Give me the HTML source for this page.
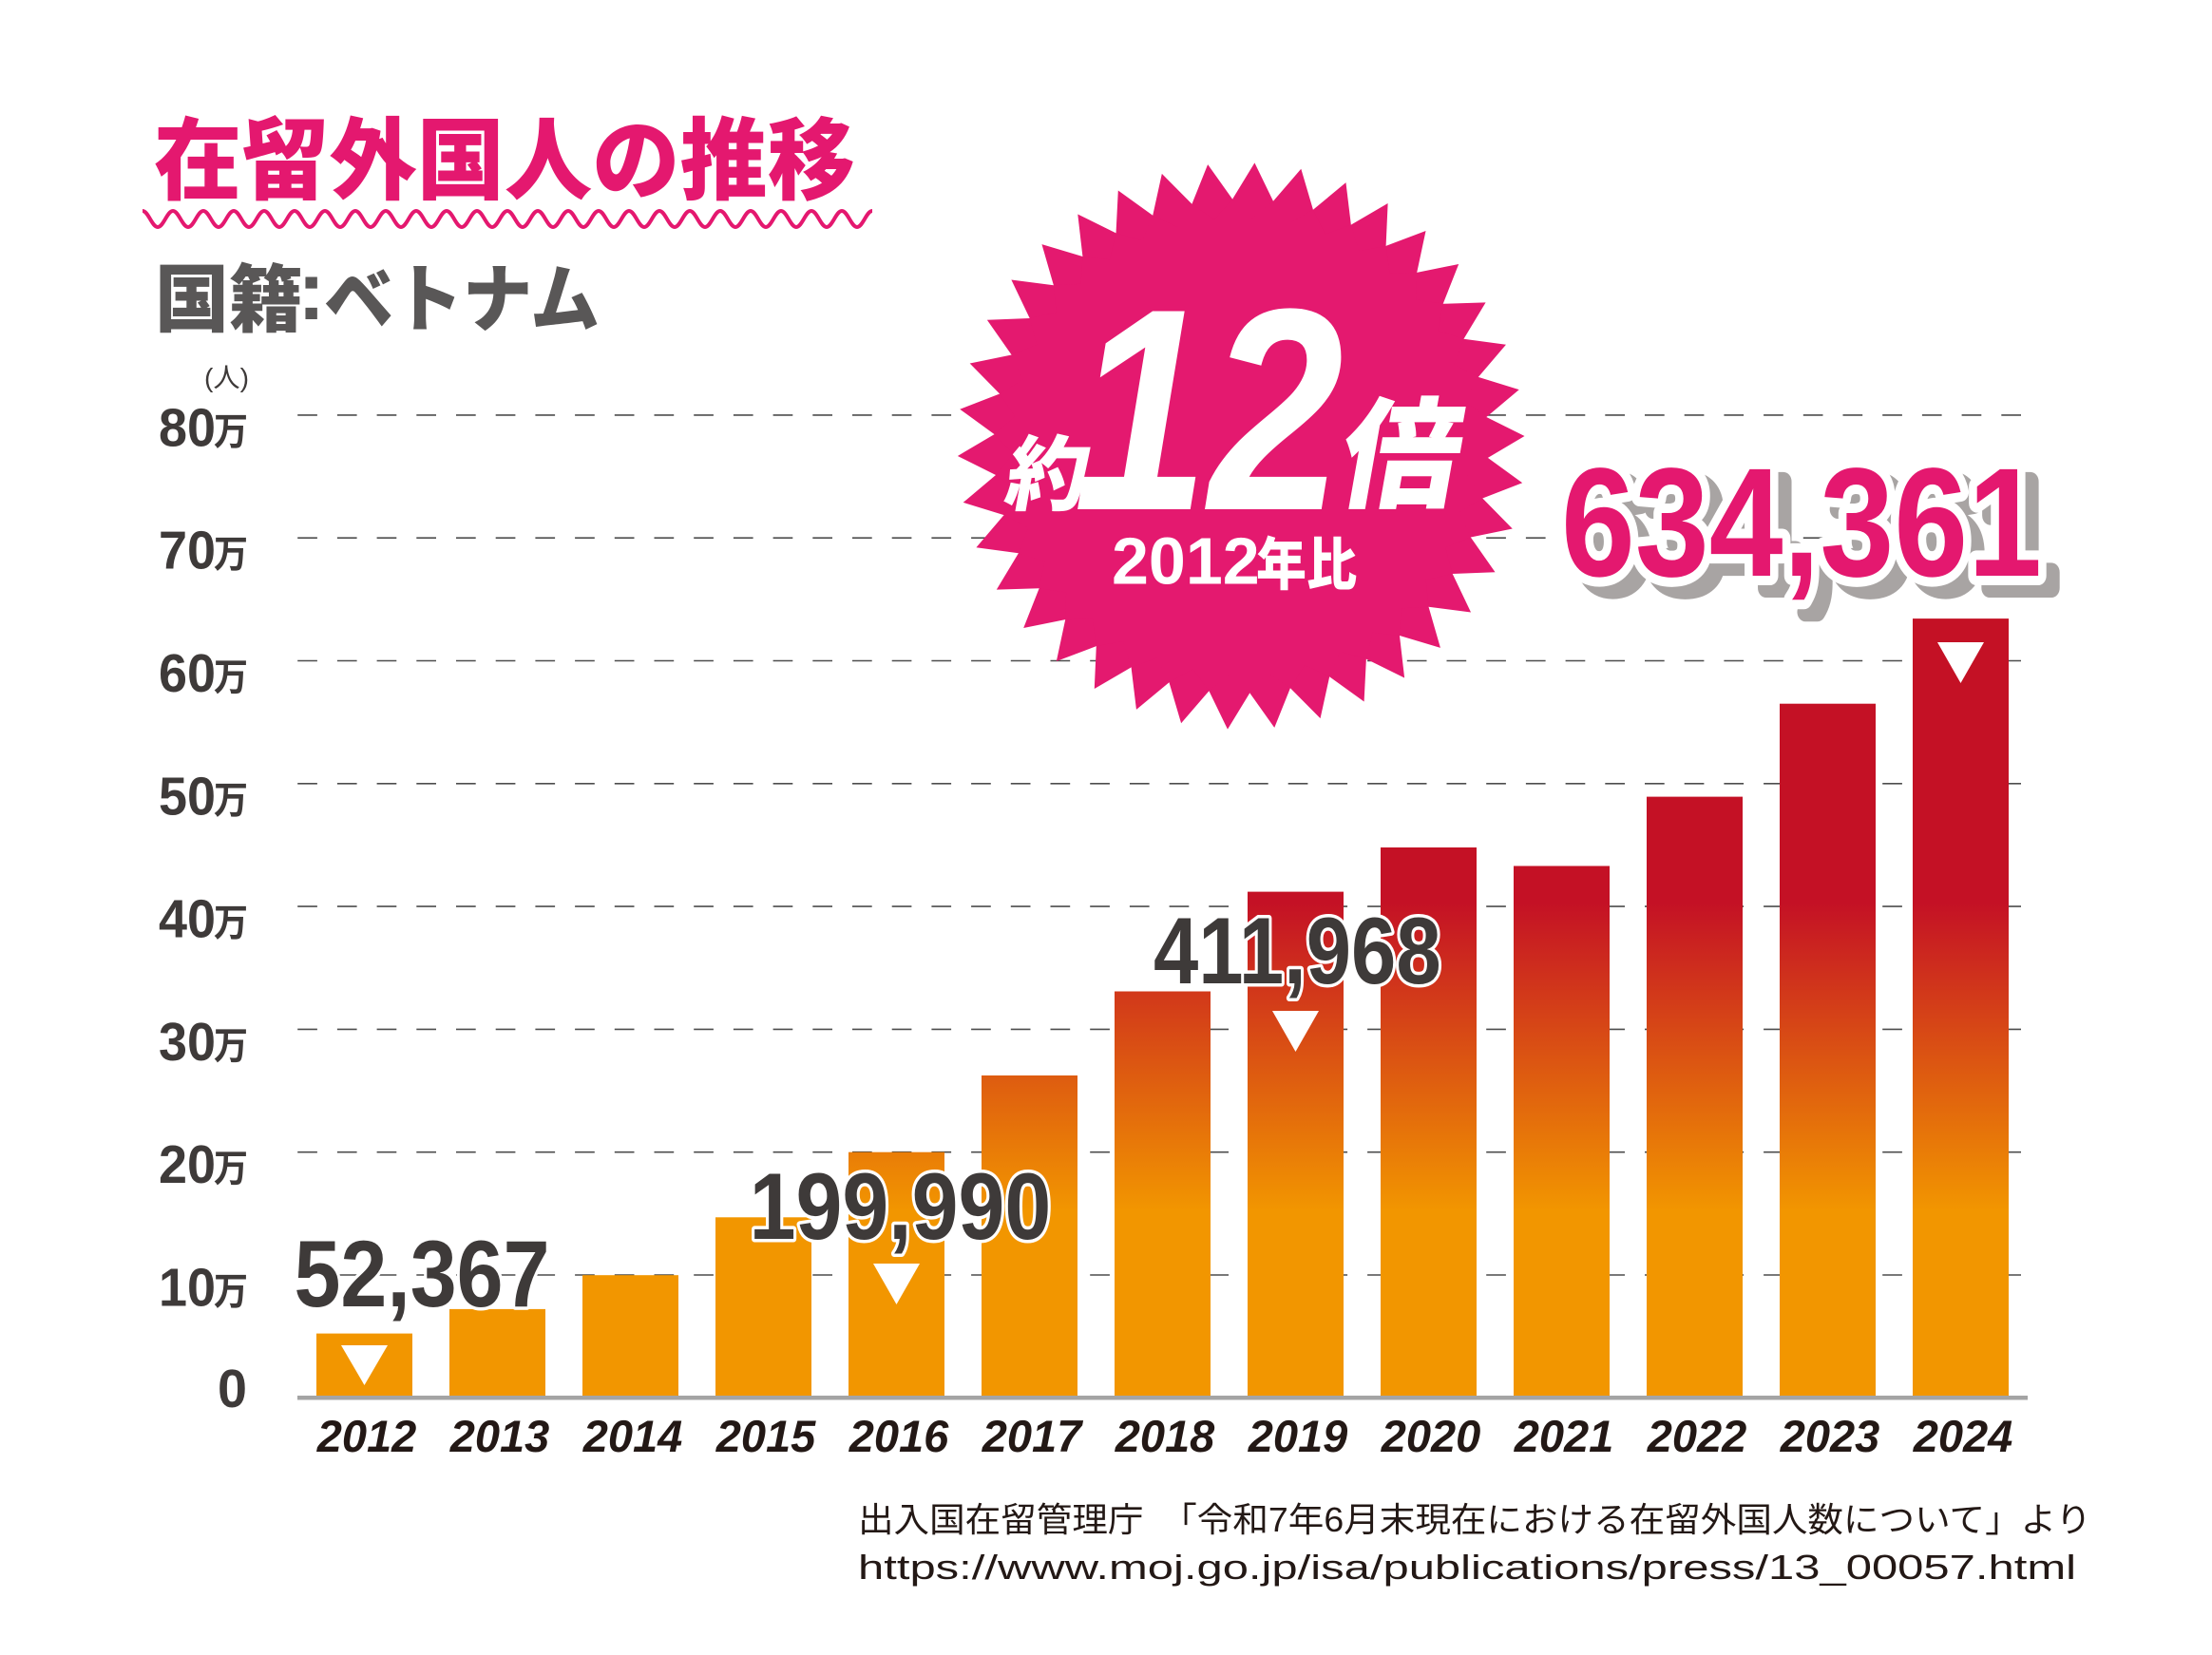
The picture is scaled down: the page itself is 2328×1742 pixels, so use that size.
<!DOCTYPE html>
<html><head><meta charset="utf-8">
<style>html,body{margin:0;padding:0;background:#fff}svg{display:block}</style>
</head><body>
<svg width="2328" height="1742" viewBox="0 0 2328 1742" xmlns="http://www.w3.org/2000/svg">
<defs>
<linearGradient id="bg" gradientUnits="userSpaceOnUse" x1="0" y1="950" x2="0" y2="1275">
<stop offset="0" stop-color="#C41125"/><stop offset="1" stop-color="#F29600"/>
</linearGradient>
</defs>
<rect width="2328" height="1742" fill="#fff"/>

<!-- Title -->
<text x="162" y="202" font-family="'Liberation Sans','Noto Sans CJK JP',sans-serif" font-weight="900" font-size="94" fill="#E4186F" textLength="738" lengthAdjust="spacingAndGlyphs">在留外国人の推移</text>
<path d="M150,222 C156,222 160,239 166,239 S176,222 182,222 S192,239 198,239 S208,222 214,222 S224,239 230,239 S240,222 246,222 S256,239 262,239 S272,222 278,222 S288,239 294,239 S304,222 310,222 S320,239 326,239 S336,222 342,222 S352,239 358,239 S368,222 374,222 S384,239 390,239 S400,222 406,222 S416,239 422,239 S432,222 438,222 S448,239 454,239 S464,222 470,222 S480,239 486,239 S496,222 502,222 S512,239 518,239 S528,222 534,222 S544,239 550,239 S560,222 566,222 S576,239 582,239 S592,222 598,222 S608,239 614,239 S624,222 630,222 S640,239 646,239 S656,222 662,222 S672,239 678,239 S688,222 694,222 S704,239 710,239 S720,222 726,222 S736,239 742,239 S752,222 758,222 S768,239 774,239 S784,222 790,222 S800,239 806,239 S816,222 822,222 S832,239 838,239 S848,222 854,222 S864,239 870,239 S880,222 886,222 S896,239 902,239 S912,222 918,222" fill="none" stroke="#E4186F" stroke-width="4"/>

<!-- Subtitle -->
<g fill="#595757" font-family="'Liberation Sans','Noto Sans CJK JP',sans-serif" font-weight="900">
<text x="163" y="342.5" font-size="78" textLength="156" lengthAdjust="spacingAndGlyphs">国籍</text>
<text x="313" y="336" font-size="88" font-weight="bold">:</text>
<text x="341" y="342.5" font-size="78" textLength="290" lengthAdjust="spacingAndGlyphs">ベトナム</text>
</g>
<text x="215" y="407" font-family="'Liberation Sans','Noto Sans CJK JP',sans-serif" font-size="28" fill="#3E3A39" textLength="47" lengthAdjust="spacingAndGlyphs">(人)</text>

<!-- Gridlines -->
<g stroke="#4d4d4d" stroke-width="1.6" stroke-dasharray="20.7 21">
<line x1="313.2" y1="1342" x2="2127" y2="1342"/>
<line x1="313.2" y1="1212.7" x2="2127" y2="1212.7"/>
<line x1="313.2" y1="1083.4" x2="2127" y2="1083.4"/>
<line x1="313.2" y1="954.1" x2="2127" y2="954.1"/>
<line x1="313.2" y1="824.8" x2="2127" y2="824.8"/>
<line x1="313.2" y1="695.5" x2="2127" y2="695.5"/>
<line x1="313.2" y1="566.2" x2="2127" y2="566.2"/>
<line x1="313.2" y1="436.9" x2="2127" y2="436.9"/>
</g>

<!-- Y labels -->
<g fill="#3E3A39" font-family="'Liberation Sans',sans-serif" font-weight="bold" font-size="57">
<text x="167" y="1374.5" textLength="60" lengthAdjust="spacingAndGlyphs">10</text>
<text x="167" y="1245.2" textLength="60" lengthAdjust="spacingAndGlyphs">20</text>
<text x="167" y="1115.9" textLength="60" lengthAdjust="spacingAndGlyphs">30</text>
<text x="167" y="986.6" textLength="60" lengthAdjust="spacingAndGlyphs">40</text>
<text x="167" y="857.3" textLength="60" lengthAdjust="spacingAndGlyphs">50</text>
<text x="167" y="728" textLength="60" lengthAdjust="spacingAndGlyphs">60</text>
<text x="167" y="598.7" textLength="60" lengthAdjust="spacingAndGlyphs">70</text>
<text x="167" y="469.4" textLength="60" lengthAdjust="spacingAndGlyphs">80</text>
<text x="229" y="1481" textLength="31" lengthAdjust="spacingAndGlyphs">0</text>
</g>
<g fill="#3E3A39" font-family="'Liberation Sans','Noto Sans CJK JP',sans-serif" font-weight="bold" font-size="40">
<text x="225" y="1373" textLength="36" lengthAdjust="spacingAndGlyphs">万</text>
<text x="225" y="1243.7" textLength="36" lengthAdjust="spacingAndGlyphs">万</text>
<text x="225" y="1114.4" textLength="36" lengthAdjust="spacingAndGlyphs">万</text>
<text x="225" y="985.1" textLength="36" lengthAdjust="spacingAndGlyphs">万</text>
<text x="225" y="855.8" textLength="36" lengthAdjust="spacingAndGlyphs">万</text>
<text x="225" y="726.5" textLength="36" lengthAdjust="spacingAndGlyphs">万</text>
<text x="225" y="597.2" textLength="36" lengthAdjust="spacingAndGlyphs">万</text>
<text x="225" y="467.9" textLength="36" lengthAdjust="spacingAndGlyphs">万</text>
</g>

<!-- Bars -->
<g fill="url(#bg)">
<rect x="333" y="1403.6" width="101" height="67.4"/>
<rect x="473" y="1377.9" width="101" height="93.1"/>
<rect x="613" y="1342.2" width="101" height="128.8"/>
<rect x="753" y="1281.3" width="101" height="189.7"/>
<rect x="893" y="1212.7" width="101" height="258.3"/>
<rect x="1033" y="1132" width="101" height="339"/>
<rect x="1173" y="1043.5" width="101" height="427.5"/>
<rect x="1313" y="938.6" width="101" height="532.4"/>
<rect x="1453" y="892" width="101" height="579"/>
<rect x="1593" y="911.5" width="101" height="559.5"/>
<rect x="1733" y="838.6" width="101" height="632.4"/>
<rect x="1873" y="740.7" width="101" height="730.3"/>
<rect x="2013" y="651.1" width="101" height="819.9"/>
</g>
<rect x="313" y="1469" width="1821" height="4.5" fill="#A4A4A4"/>

<!-- Triangles -->
<g fill="#fff">
<polygon points="359,1416 408,1416 383.5,1458"/>
<polygon points="919,1330 968,1330 943.5,1373"/>
<polygon points="1339,1064 1388,1064 1363.5,1107"/>
<polygon points="2039,676 2088,676 2063.5,719"/>
</g>

<!-- Year labels -->
<g fill="#231815" font-family="'Liberation Sans',sans-serif" font-weight="bold" font-style="italic" font-size="47" text-anchor="middle">
<text x="386" y="1528">2012</text>
<text x="526" y="1528">2013</text>
<text x="666" y="1528">2014</text>
<text x="806" y="1528">2015</text>
<text x="946" y="1528">2016</text>
<text x="1086" y="1528">2017</text>
<text x="1226" y="1528">2018</text>
<text x="1366" y="1528">2019</text>
<text x="1506" y="1528">2020</text>
<text x="1646" y="1528">2021</text>
<text x="1786" y="1528">2022</text>
<text x="1926" y="1528">2023</text>
<text x="2066" y="1528">2024</text>
</g>

<!-- Value labels -->
<g fill="#3E3A39" stroke="#fff" stroke-width="7" stroke-linejoin="round" paint-order="stroke" font-family="'Liberation Sans',sans-serif" font-weight="bold" font-size="99">
<text x="309.5" y="1375" textLength="269" lengthAdjust="spacingAndGlyphs">52,367</text>
<text x="788.6" y="1304" textLength="317.6" lengthAdjust="spacingAndGlyphs">199,990</text>
<text x="1214" y="1035" textLength="302.6" lengthAdjust="spacingAndGlyphs">411,968</text>
</g>

<!-- 634,361 -->
<g font-family="'Liberation Sans',sans-serif" font-weight="bold" font-size="163" stroke-linejoin="round">
<text x="1657" y="619" textLength="506" lengthAdjust="spacingAndGlyphs" fill="#A8A4A3" stroke="#A8A4A3" stroke-width="20">634,361</text>
<text x="1643" y="606" textLength="506" lengthAdjust="spacingAndGlyphs" fill="#E4186F" stroke="#fff" stroke-width="20" paint-order="stroke">634,361</text>
</g>

<!-- Starburst -->
<g transform="translate(1306.2,469.5)" fill="#E4196F">
<circle r="260"/>
<g transform="rotate(2.73)">
<polygon id="sp" points="-21.47,-259.1 0,-298.5 21.47,-259.1 0,-240"/>
<use href="#sp" transform="rotate(9.4737)"/>
<use href="#sp" transform="rotate(18.9474)"/>
<use href="#sp" transform="rotate(28.4211)"/>
<use href="#sp" transform="rotate(37.8947)"/>
<use href="#sp" transform="rotate(47.3684)"/>
<use href="#sp" transform="rotate(56.8421)"/>
<use href="#sp" transform="rotate(66.3158)"/>
<use href="#sp" transform="rotate(75.7895)"/>
<use href="#sp" transform="rotate(85.2632)"/>
<use href="#sp" transform="rotate(94.7368)"/>
<use href="#sp" transform="rotate(104.2105)"/>
<use href="#sp" transform="rotate(113.6842)"/>
<use href="#sp" transform="rotate(123.1579)"/>
<use href="#sp" transform="rotate(132.6316)"/>
<use href="#sp" transform="rotate(142.1053)"/>
<use href="#sp" transform="rotate(151.5789)"/>
<use href="#sp" transform="rotate(161.0526)"/>
<use href="#sp" transform="rotate(170.5263)"/>
<use href="#sp" transform="rotate(180)"/>
<use href="#sp" transform="rotate(189.4737)"/>
<use href="#sp" transform="rotate(198.9474)"/>
<use href="#sp" transform="rotate(208.4211)"/>
<use href="#sp" transform="rotate(217.8947)"/>
<use href="#sp" transform="rotate(227.3684)"/>
<use href="#sp" transform="rotate(236.8421)"/>
<use href="#sp" transform="rotate(246.3158)"/>
<use href="#sp" transform="rotate(255.7895)"/>
<use href="#sp" transform="rotate(265.2632)"/>
<use href="#sp" transform="rotate(274.7368)"/>
<use href="#sp" transform="rotate(284.2105)"/>
<use href="#sp" transform="rotate(293.6842)"/>
<use href="#sp" transform="rotate(303.1579)"/>
<use href="#sp" transform="rotate(312.6316)"/>
<use href="#sp" transform="rotate(322.1053)"/>
<use href="#sp" transform="rotate(331.5789)"/>
<use href="#sp" transform="rotate(341.0526)"/>
<use href="#sp" transform="rotate(350.5263)"/>
</g>
</g>

<!-- Star text -->
<g fill="#fff">
<text transform="translate(1098,530) skewX(-10)" text-anchor="middle" font-family="'Liberation Sans','Noto Sans CJK JP',sans-serif" font-weight="900" font-size="86">約</text>
<text x="1130" y="536" font-family="'Liberation Sans',sans-serif" font-weight="bold" font-style="italic" font-size="303" textLength="284" lengthAdjust="spacingAndGlyphs">12</text>
<text transform="translate(1468,524) skewX(-10)" text-anchor="middle" font-family="'Liberation Sans','Noto Sans CJK JP',sans-serif" font-weight="900" font-size="126">倍</text>
<text x="1170" y="614.6" font-family="'Liberation Sans',sans-serif" font-weight="bold" font-size="70">2012</text>
<text x="1322" y="615.5" font-family="'Liberation Sans','Noto Sans CJK JP',sans-serif" font-weight="900" font-size="60" textLength="106" lengthAdjust="spacingAndGlyphs">年比</text>
</g>

<!-- Source -->
<g fill="#231815" font-family="'Liberation Sans','Noto Sans CJK JP',sans-serif">
<text x="903" y="1612" font-size="36" textLength="1298" lengthAdjust="spacingAndGlyphs">出入国在留管理庁　「令和7年6月末現在における在留外国人数について」より</text>
<text x="903" y="1662" font-size="36" textLength="1282" lengthAdjust="spacingAndGlyphs">https://www.moj.go.jp/isa/publications/press/13_00057.html</text>
</g>
</svg>
</body></html>
